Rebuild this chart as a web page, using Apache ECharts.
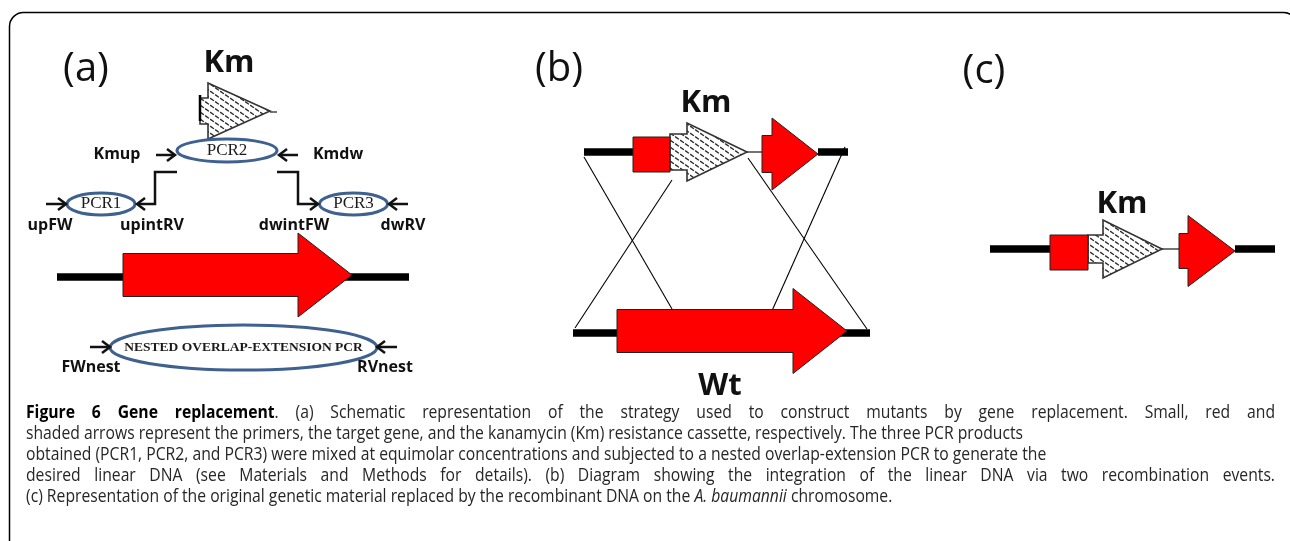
<!DOCTYPE html>
<html><head><meta charset="utf-8">
<script src="https://cdn.jsdelivr.net/npm/echarts@6/dist/echarts.min.js"></script>
<style>html,body{margin:0;padding:0;background:#fff}#c{width:1290px;height:541px}</style>
</head><body><div id="c"></div>
<script>
// ---------- diagram data (values in diagram units on hidden axes) ----------
const panelTags = ['(a)', '(b)', '(c)'];
const panelTagPos = [[86, 70], [559, 70], [984, 72]];
const bigLabels = ['Km', 'Km', 'Km', 'Wt'];
const bigLabelPos = [[229, 63], [706, 103], [1122, 204], [720, 386]];
const primerNames = ['Kmup', 'Kmdw', 'upFW', 'upintRV', 'dwintFW', 'dwRV', 'FWnest', 'RVnest'];
const primerNamePos = [[117, 154], [338, 154], [50, 225], [152, 225], [294, 225], [403, 225], [91, 367], [385, 367]];
const dnaSegments = [[57, 409, 277], [584, 633, 152], [818, 848, 152], [573, 870, 333], [990, 1050, 249], [1235, 1275, 249]];
const joinLines = [[270, 112, 277, 112], [747, 152, 762, 152], [1162, 249, 1180, 249]];
const crossovers = [[584, 157, 672, 309], [672, 180, 575, 328], [748, 158, 867, 329], [845, 147, 771, 313]];
const kmBracket = [[200, 95, 200, 121]];
const targetGenes = [[123, 298, 352, 275, 21.5, 42], [617, 793, 847, 331, 21.5, 42.5], [762, 772, 818, 154, 18.5, 36], [1179, 1188, 1235, 251, 17.5, 35.5]];
const flankBoxes = [[633, 137, 670, 172], [1050, 235, 1088, 270]];
const kmCassettes = [[200, 208, 270, 111, 13, 28], [670, 687, 747, 152, 18, 29], [1088, 1103, 1162, 249, 14, 29]];
const pcrProducts = ['PCR2', 'PCR1', 'PCR3', 'NESTED OVERLAP-EXTENSION PCR'];
const pcrEllipses = [[227, 150.5, 50, 11.5], [101, 204, 34, 11], [353.5, 204, 34, 11], [243.5, 347.5, 133.5, 22.5]];
const primers = [[156, 175, 155], [298, 279, 155], [46, 66, 204], [408, 389, 204], [90, 110, 347], [397, 377, 347]];
const stepPaths = [[[177, 172], [155, 172], [155, 204], [137, 204]], [[277, 172], [298, 172], [298, 204], [318, 204]]];
const captionLines = [
  '*Figure 6 Gene replacement*. (a) Schematic representation of the strategy used to construct mutants by gene replacement. Small, red and',
  'shaded arrows represent the primers, the target gene, and the kanamycin (Km) resistance cassette, respectively. The three PCR products',
  'obtained (PCR1, PCR2, and PCR3) were mixed at equimolar concentrations and subjected to a nested overlap-extension PCR to generate the',
  'desired linear DNA (see Materials and Methods for details). (b) Diagram showing the integration of the linear DNA via two recombination events.',
  '(c) Representation of the original genetic material replaced by the recombinant DNA on the _A. baumannii_ chromosome.'
];
const captionJustified = [true, false, false, true, false];

// ---------- helpers ----------
const SANS = '"Open Sans", "DejaVu Sans", sans-serif';
const SERIF = '"Liberation Serif", "DejaVu Serif", serif';

const hatch = document.createElement('canvas');
hatch.width = 10; hatch.height = 7;
(function () {
  const c = hatch.getContext('2d');
  c.fillStyle = '#fff'; c.fillRect(0, 0, 10, 7);
  c.strokeStyle = '#2a2a2a'; c.lineWidth = 1.3; c.lineCap = 'round';
  c.beginPath();
  [-7, 0, 7].forEach(function (dy) {
    c.moveTo(0.5, dy + 0.35); c.lineTo(3.5, dy + 2.45);
    c.moveTo(5.5, dy + 3.85); c.lineTo(8.5, dy + 5.95);
  });
  c.stroke();
})();

function blockArrow(api, d) {
  const [xt, xn, xp, y, bh, hh] = d;
  const pts = [[xt, y - bh], [xn, y - bh], [xn, y - hh], [xp, y], [xn, y + hh], [xn, y + bh], [xt, y + bh]];
  return pts.map(p => api.coord(p));
}
function chevron(tip, dir) {
  return [[tip[0] - dir * 8, tip[1] - 6], tip, [tip[0] - dir * 8, tip[1] + 6]];
}

const series = [];
const base = { type: 'custom', silent: true, animation: false, coordinateSystem: 'cartesian2d' };

series.push(Object.assign({}, base, {
  data: dnaSegments, renderItem: (p, api) => {
    const [x1, x2, y] = dnaSegments[p.dataIndex];
    const a = api.coord([x1, y]), b = api.coord([x2, y]);
    return { type: 'line', shape: { x1: a[0], y1: a[1], x2: b[0], y2: b[1] }, style: { stroke: '#000', lineWidth: 7.5 } };
  }
}));
const thin = joinLines.concat(crossovers);
series.push(Object.assign({}, base, {
  data: thin, renderItem: (p, api) => {
    const [x1, y1, x2, y2] = thin[p.dataIndex];
    const a = api.coord([x1, y1]), b = api.coord([x2, y2]);
    return { type: 'line', shape: { x1: a[0], y1: a[1], x2: b[0], y2: b[1] }, style: { stroke: '#000', lineWidth: 1.1 } };
  }
}));
series.push(Object.assign({}, base, {
  data: kmCassettes, renderItem: (p, api) => ({
    type: 'polygon', shape: { points: blockArrow(api, kmCassettes[p.dataIndex]) },
    style: { fill: { image: hatch, repeat: 'repeat' }, stroke: '#333', lineWidth: 1.6 }
  })
}));
series.push(Object.assign({}, base, {
  data: kmBracket, renderItem: (p, api) => {
    const [x1, y1, x2, y2] = kmBracket[p.dataIndex];
    const a = api.coord([x1, y1]), b = api.coord([x2, y2]);
    return { type: 'line', shape: { x1: a[0], y1: a[1], x2: b[0], y2: b[1] }, style: { stroke: '#000', lineWidth: 2.5 } };
  }
}));
series.push(Object.assign({}, base, {
  data: flankBoxes, renderItem: (p, api) => {
    const [x1, y1, x2, y2] = flankBoxes[p.dataIndex];
    const a = api.coord([x1, y1]), b = api.coord([x2, y2]);
    return { type: 'rect', shape: { x: a[0], y: a[1], width: b[0] - a[0], height: b[1] - a[1] }, style: { fill: '#ff0000', stroke: '#222', lineWidth: 1 } };
  }
}));
series.push(Object.assign({}, base, {
  data: targetGenes, renderItem: (p, api) => ({
    type: 'polygon', shape: { points: blockArrow(api, targetGenes[p.dataIndex]) },
    style: { fill: '#ff0000', stroke: '#222', lineWidth: 1 }
  })
}));
series.push(Object.assign({}, base, {
  data: pcrEllipses, renderItem: (p, api) => {
    const [cx, cy, rx, ry] = pcrEllipses[p.dataIndex];
    const c = api.coord([cx, cy]), e = api.coord([cx + rx, cy + ry]);
    const nested = p.dataIndex === 3;
    return {
      type: 'group', children: [
        { type: 'ellipse', shape: { cx: c[0], cy: c[1], rx: e[0] - c[0], ry: e[1] - c[1] }, style: { fill: 'none', stroke: '#3f6190', lineWidth: 3 } },
        {
          type: 'text', x: c[0], y: c[1], style: {
            text: pcrProducts[p.dataIndex], fill: '#1a1a1a', fontFamily: SERIF,
            fontSize: nested ? 13.5 : 17, fontWeight: nested ? 'bold' : 'normal', align: 'center', verticalAlign: 'middle'
          }
        }
      ]
    };
  }
}));
series.push(Object.assign({}, base, {
  data: primers, renderItem: (p, api) => {
    const [x1, x2, y] = primers[p.dataIndex];
    const a = api.coord([x1, y]), b = api.coord([x2, y]);
    const dir = x2 > x1 ? 1 : -1;
    return {
      type: 'group', children: [
        { type: 'line', shape: { x1: a[0], y1: a[1], x2: b[0], y2: b[1] }, style: { stroke: '#111', lineWidth: 2.5 } },
        { type: 'polyline', shape: { points: chevron(b, dir) }, style: { stroke: '#111', lineWidth: 2.5, fill: null } }
      ]
    };
  }
}));
series.push(Object.assign({}, base, {
  data: stepPaths.map(s => s[0]), renderItem: (p, api) => {
    const pts = stepPaths[p.dataIndex].map(q => api.coord(q));
    const n = pts.length;
    const dir = pts[n - 1][0] > pts[n - 2][0] ? 1 : -1;
    return {
      type: 'group', children: [
        { type: 'polyline', shape: { points: pts }, style: { stroke: '#111', lineWidth: 2.5, fill: null } },
        { type: 'polyline', shape: { points: chevron(pts[n - 1], dir) }, style: { stroke: '#111', lineWidth: 2.5, fill: null } }
      ]
    };
  }
}));
function textSeries(names, pos, fs, weight) {
  return Object.assign({}, base, {
    data: pos, renderItem: (p, api) => {
      const c = api.coord(pos[p.dataIndex]);
      return {
        type: 'text', x: c[0], y: c[1], style: {
          text: names[p.dataIndex], fill: '#111', fontFamily: SANS, fontSize: fs, fontWeight: weight,
          align: 'center', verticalAlign: 'middle'
        }
      };
    }
  });
}
series.push(textSeries(panelTags, panelTagPos, 40, 'normal'));
series.push(textSeries(bigLabels, bigLabelPos, 31, 'bold'));
series.push(textSeries(primerNames, primerNamePos, 16, 'bold'));

// ---------- caption (justified where the original is) ----------
function parseLine(s) {
  const words = []; let cur = []; let b = false, it = false; let buf = '';
  const flush = () => { if (buf) { cur.push({ t: buf, b: b, i: it }); buf = ''; } };
  for (const ch of s) {
    if (ch === '*') { flush(); b = !b; }
    else if (ch === '_') { flush(); it = !it; }
    else if (ch === ' ') { flush(); if (cur.length) words.push(cur); cur = []; }
    else buf += ch;
  }
  flush(); if (cur.length) words.push(cur);
  return words;
}
const mctx = document.createElement('canvas').getContext('2d');
function fontOf(s, fs) { return (s.i ? 'italic ' : '') + (s.b ? 'bold ' : '') + fs + 'px ' + SANS; }
function segW(s, fs) { mctx.font = fontOf(s, fs); return mctx.measureText(s.t).width; }
function wordW(w, fs) { return w.reduce((a, s) => a + segW(s, fs), 0); }
function spaceW(fs) { mctx.font = fs + 'px ' + SANS; return mctx.measureText(' ').width; }
function natural(words, fs) { return words.reduce((a, w) => a + wordW(w, fs), 0) + (words.length - 1) * spaceW(fs); }

const parsed = captionLines.map(parseLine);
const capFs = 17.5;
const capSx = 997 / natural(parsed[1], capFs);
const capX0 = 26, capX1 = 1275, capY0 = 413, capDy = 21;
const capEls = [];
parsed.forEach((words, li) => {
  const total = words.reduce((a, w) => a + wordW(w, capFs), 0) * capSx;
  const gap = captionJustified[li] ? (capX1 - capX0 - total) / (words.length - 1) : spaceW(capFs) * capSx;
  let x = capX0;
  const y = capY0 + li * capDy;
  words.forEach(w => {
    w.forEach(s => {
      capEls.push({
        type: 'text', x: x, y: y, scaleX: capSx, silent: true, style: {
          text: s.t, fill: s.b ? '#000' : '#262626', fontFamily: SANS, fontSize: capFs,
          fontWeight: s.b ? 'bold' : 'normal', fontStyle: s.i ? 'italic' : 'normal', verticalAlign: 'middle'
        }
      });
      x += segW(s, capFs) * capSx;
    });
    x += gap;
  });
});

const chart = echarts.init(document.getElementById('c'), null, { renderer: 'canvas' });
chart.setOption({
  animation: false,
  backgroundColor: '#fff',
  grid: { left: 0, right: 0, top: 0, bottom: 0 },
  xAxis: { type: 'value', min: 0, max: 1290, show: false },
  yAxis: { type: 'value', min: 0, max: 541, inverse: true, show: false },
  graphic: [
    { type: 'rect', silent: true, shape: { x: 9.5, y: 12.5, width: 1288, height: 600, r: 14 }, style: { fill: 'none', stroke: '#000', lineWidth: 1.5 } }
  ].concat(capEls),
  series: series
});
</script></body></html>
